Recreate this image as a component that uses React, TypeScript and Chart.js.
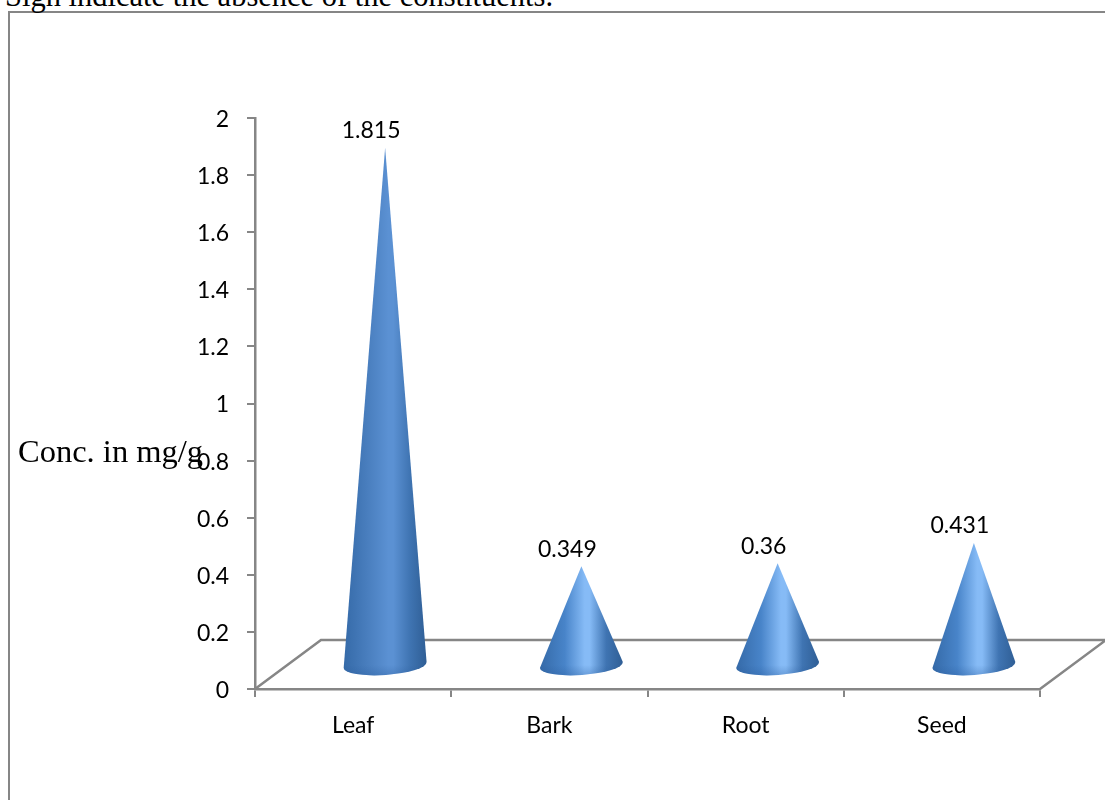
import React, { useEffect, useRef } from "react";
import { Chart, registerables } from "chart.js";

Chart.register(...registerables);

const categories = ["Leaf", "Bark", "Root", "Seed"];
const concentrations = [1.815, 0.349, 0.36, 0.431];
const valueLabels = ["1.815", "0.349", "0.36", "0.431"];
const sideColors = ["#4a7fbf", "#4884c9", "#4884c9", "#4884c9"];
const highlightColors = ["#5b91d3", "#86bbf6", "#86bbf6", "#86bbf6"];

const GREY = "#868686";
const DEPTH_X = 66;
const DEPTH_Y = 49;
const CONE_DX = 32;
const CONE_DY = 23;
const LABEL_FONT = "23px Lato";

// Floor of the pseudo-3D plot, drawn beneath the marks.
const floorPlugin = {
  id: "floor",
  beforeDatasetsDraw(chart: any) {
    const { ctx, chartArea, scales } = chart;
    const y0 = scales.y.getPixelForValue(0);
    ctx.save();
    ctx.strokeStyle = GREY;
    ctx.lineWidth = 2.5;
    ctx.beginPath();
    ctx.moveTo(chartArea.left, y0);
    ctx.lineTo(chartArea.left + DEPTH_X, y0 - DEPTH_Y);
    ctx.lineTo(chartArea.right + DEPTH_X, y0 - DEPTH_Y);
    ctx.lineTo(chartArea.right, y0);
    ctx.stroke();
    ctx.restore();
  },
};

// Each bar element is painted as a shaded cone standing on the floor.
const conePlugin = {
  id: "cones",
  afterDatasetsDraw(chart: any) {
    const { ctx } = chart;
    const meta = chart.getDatasetMeta(0);
    meta.data.forEach((bar: any, i: number) => {
      const cx = bar.x + CONE_DX;
      const tipY = bar.y - CONE_DY;
      const baseY = bar.base - CONE_DY;
      const rx = bar.width / 2;
      const ry = 10;
      const tilt = (-4 * Math.PI) / 180;

      const outline = () => {
        ctx.beginPath();
        ctx.moveTo(cx, tipY);
        ctx.lineTo(cx - rx * Math.cos(tilt), baseY - rx * Math.sin(tilt));
        ctx.ellipse(cx, baseY, rx, ry, tilt, Math.PI, 0, true);
        ctx.closePath();
      };

      const grad = ctx.createLinearGradient(cx - rx, 0, cx + rx, 0);
      grad.addColorStop(0, "#356aa8");
      grad.addColorStop(0.3, sideColors[i]);
      grad.addColorStop(0.54, highlightColors[i]);
      grad.addColorStop(0.6, highlightColors[i]);
      grad.addColorStop(0.8, "#3f74b2");
      grad.addColorStop(1, "#2f5e95");

      ctx.save();
      outline();
      ctx.fillStyle = grad;
      ctx.fill();

      // Slightly deeper tone where the cone curves under at its foot.
      const rim = ctx.createLinearGradient(0, baseY, 0, baseY + ry);
      rim.addColorStop(0, "rgba(40,90,155,0)");
      rim.addColorStop(1, "rgba(40,90,155,0.3)");
      outline();
      ctx.fillStyle = rim;
      ctx.fill();
      ctx.restore();

      ctx.save();
      ctx.font = LABEL_FONT;
      ctx.fillStyle = "#000000";
      ctx.textAlign = "center";
      ctx.textBaseline = "middle";
      ctx.fillText(valueLabels[i], cx - 14, tipY - 17);
      ctx.restore();
    });
  },
};

export default function App() {
  const canvasRef = useRef<HTMLCanvasElement | null>(null);

  useEffect(() => {
    document.body.style.margin = "0";
    const chart = new Chart(canvasRef.current as HTMLCanvasElement, {
      type: "bar",
      data: {
        labels: categories,
        datasets: [
          {
            data: concentrations,
            backgroundColor: "rgba(0,0,0,0)",
            barPercentage: 0.4235,
            categoryPercentage: 1,
          },
        ],
      },
      options: {
        responsive: false,
        animation: false,
        layout: { padding: { top: 118, right: 65, bottom: 0, left: 0 } },
        plugins: { legend: { display: false }, tooltip: { enabled: false } },
        scales: {
          x: {
            afterFit: (s: any) => {
              s.height = 111;
            },
            grid: { drawOnChartArea: false, color: GREY, lineWidth: 2, tickLength: 8 },
            border: { color: GREY, width: 2.5 },
            ticks: { color: "#000000", font: { family: "Lato", size: 23 }, padding: 15 },
          },
          y: {
            min: 0,
            max: 2,
            afterFit: (s: any) => {
              s.width = 255;
            },
            grid: { drawOnChartArea: false, color: GREY, lineWidth: 2, tickLength: 8 },
            border: { color: GREY, width: 2.5 },
            ticks: {
              stepSize: 0.2,
              color: "#000000",
              font: { family: "Lato", size: 23 },
              padding: 18,
              labelOffset: 1.5,
              callback: (v: any) => String(Number(Number(v).toFixed(1))),
            },
          },
        },
      },
      plugins: [floorPlugin, conePlugin],
    });
    return () => chart.destroy();
  }, []);

  const serif = '"Liberation Serif", serif';
  return (
    <div style={{ position: "relative", width: 1105, height: 800, overflow: "hidden", background: "#fff" }}>
      <div
        style={{
          position: "absolute",
          left: 8,
          top: 11,
          width: 1097,
          height: 789,
          borderLeft: `2px solid ${GREY}`,
          borderTop: `2px solid ${GREY}`,
          boxSizing: "border-box",
        }}
      />
      <div
        style={{
          position: "absolute",
          left: 5,
          top: -21,
          font: `30.5px ${serif}`,
          color: "#000",
          whiteSpace: "nowrap",
        }}
      >
        Sign indicate the absence of the constituents.
      </div>
      <canvas ref={canvasRef} width={1105} height={800} style={{ position: "absolute", left: 0, top: 0 }} />
      <div
        style={{
          position: "absolute",
          left: 18,
          top: 433,
          font: `32.5px ${serif}`,
          color: "#000",
          whiteSpace: "nowrap",
        }}
      >
        Conc. in mg/g
      </div>
    </div>
  );
}
